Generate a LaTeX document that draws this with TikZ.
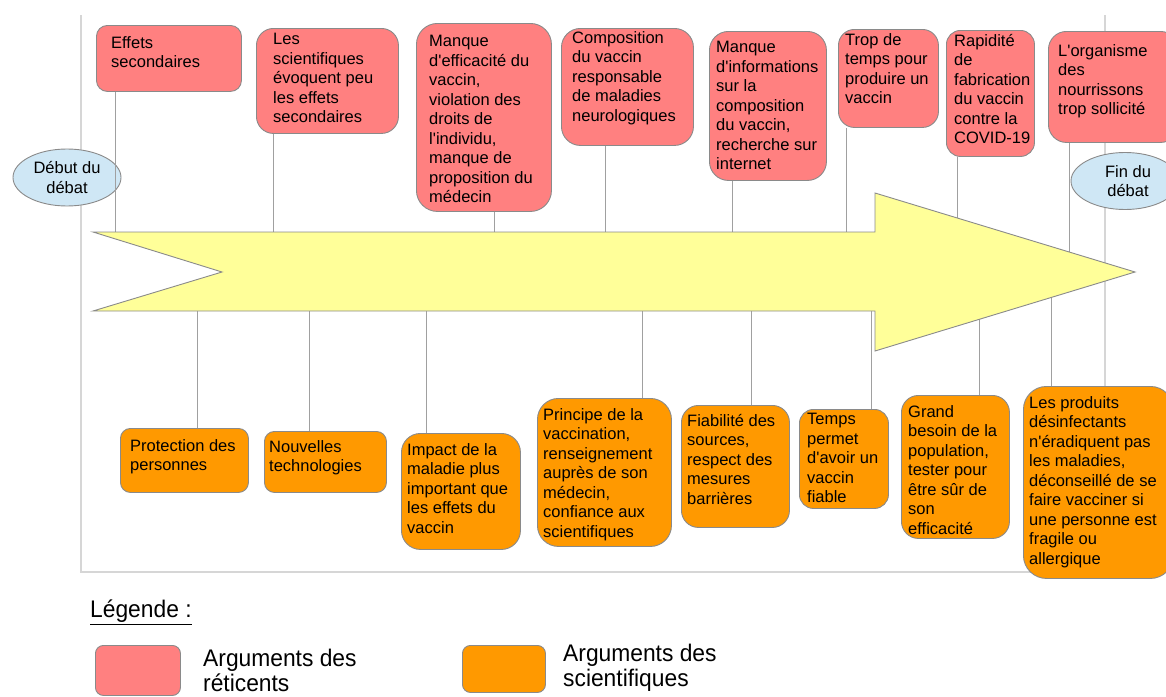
\documentclass[tikz,border=0pt]{standalone}
\usepackage{fontspec}
\setmainfont{Liberation Sans}
\newfontfamily\legfont[FakeStretch=0.95]{Liberation Sans}
\usetikzlibrary{shapes.geometric}
\definecolor{pinkc}{HTML}{FF8080}
\definecolor{orangec}{HTML}{FF9900}
\definecolor{yellowc}{HTML}{FFFF99}
\definecolor{bluec}{HTML}{CFE7F5}
\definecolor{boxgray}{HTML}{8A8A8A}
\definecolor{conngray}{HTML}{A0A0A0}
\definecolor{framec}{HTML}{D6D6D6}
\newcommand\ap{\textquotesingle}
\begin{document}
\begin{tikzpicture}[x=1pt,y=-1pt,
  box/.style={draw=boxgray, line width=0.9pt, anchor=north west, inner sep=0pt},
  redbox/.style={box, fill=pinkc},
  orbox/.style={box, fill=orangec},
  txt/.style={anchor=north west, inner sep=0pt, align=left, font=\fontsize{16.5}{19.5}\selectfont},
  conn/.style={draw=conngray, line width=1pt},
  endp/.style={ellipse, draw=boxgray, fill=bluec, line width=0.9pt, inner sep=0pt,
    minimum width=108pt, minimum height=57pt, align=center, font=\fontsize{16.5}{19.5}\selectfont},
  legtxt/.style={anchor=north west, inner sep=0pt, align=left, font=\legfont\fontsize{24}{25}\selectfont},
]
\useasboundingbox (0,0) rectangle (1166,696);
% frame
\draw[framec, line width=1.5pt] (81,15) -- (81,572) -- (1105,572) -- (1105,15);

% arrow attachment points
\coordinate (t1) at (115,232);
\coordinate (t2) at (273,232);
\coordinate (t3) at (494,232);
\coordinate (t4) at (605,232);
\coordinate (t5) at (732,232);
\coordinate (t6) at (846,232);
\coordinate (t7) at (957,218);
\coordinate (t8) at (1069,252);
\coordinate (b1) at (197,311);
\coordinate (b2) at (309,311);
\coordinate (b3) at (426,311);
\coordinate (b4) at (642,311);
\coordinate (b5) at (751,311);
\coordinate (b6) at (871,311);
\coordinate (b7) at (979,318);
\coordinate (b8) at (1051,297);

% ellipses
\node[endp] (deb) at (67,177.5) {Début du\\débat};
\node[endp] (fin) at (1125,181) {\hspace*{6pt}Fin du\\\hspace*{6pt}débat};

% top boxes
\node[redbox, rounded corners=11pt, minimum width=145pt, minimum height=66pt] (r1) at (96,25) {};
\node[redbox, rounded corners=17pt, minimum width=142pt, minimum height=105pt] (r2) at (256,28) {};
\node[redbox, rounded corners=21pt, minimum width=135pt, minimum height=188pt] (r3) at (416,23) {};
\node[redbox, rounded corners=19pt, minimum width=132pt, minimum height=117pt] (r4) at (561,28) {};
\node[redbox, rounded corners=19pt, minimum width=117pt, minimum height=149pt] (r5) at (709,31) {};
\node[redbox, rounded corners=16pt, minimum width=100pt, minimum height=98pt] (r6) at (838,29) {};
\node[redbox, rounded corners=14pt, minimum width=88pt, minimum height=126pt] (r7) at (946,30) {};
\node[redbox, rounded corners=18pt, minimum width=130pt, minimum height=111pt] (r8) at (1048,31) {};

% bottom boxes
\node[orbox, rounded corners=10pt, minimum width=128pt, minimum height=64pt] (o1) at (120,428) {};
\node[orbox, rounded corners=10pt, minimum width=122pt, minimum height=61pt] (o2) at (264,431) {};
\node[orbox, rounded corners=19pt, minimum width=119pt, minimum height=116pt] (o3) at (401,433) {};
\node[orbox, rounded corners=21pt, minimum width=134pt, minimum height=148pt] (o4) at (537,398) {};
\node[orbox, rounded corners=17pt, minimum width=108pt, minimum height=122pt] (o5) at (681,405) {};
\node[orbox, rounded corners=14pt, minimum width=89pt, minimum height=99pt] (o6) at (799,409) {};
\node[orbox, rounded corners=17pt, minimum width=108pt, minimum height=143pt] (o7) at (901,395) {};
\node[orbox, rounded corners=23pt, minimum width=150pt, minimum height=192pt] (o8) at (1023,386) {};

% connectors
\foreach \i in {1,...,8} {
  \draw[conn] (r\i.south -| t\i) -- (t\i);
  \draw[conn] (o\i.north -| b\i) -- (b\i);
}

% arrow
\draw[draw=boxgray, fill=yellowc, line width=0.9pt, line join=miter]
  (93,232) -- (875,232) -- (875,193) -- (1135,272) -- (875,351) -- (875,311)
  -- (93,311) -- (222,272) -- cycle;

% texts top
\node[txt] (r1t) at (111,36) {Effets\\secondaires};
\node[txt] (r2t) at (273,33) {Les\\scientifiques\\évoquent peu\\les effets\\secondaires};
\node[txt] (r3t) at (429,35) {Manque\\d\ap efficacité du\\vaccin,\\violation des\\droits de\\l\ap individu,\\manque de\\proposition du\\médecin};
\node[txt] (r4t) at (572,31) {Composition\\du vaccin\\responsable\\de maladies\\neurologiques};
\node[txt] (r5t) at (716,41) {Manque\\d\ap informations\\sur la\\composition\\du vaccin,\\recherche sur\\internet};
\node[txt] (r6t) at (845,33) {Trop de\\temps pour\\produire un\\vaccin};
\node[txt] (r7t) at (954,34) {Rapidité\\de\\fabrication\\du vaccin\\contre la\\COVID-19};
\node[txt] (r8t) at (1058,44) {L\ap organisme\\des\\nourrissons\\trop sollicité};

% texts bottom
\node[txt] (o1t) at (130,439) {Protection des\\personnes};
\node[txt] (o2t) at (269,440) {Nouvelles\\technologies};
\node[txt] (o3t) at (407,443) {Impact de la\\maladie plus\\important que\\les effets du\\vaccin};
\node[txt] (o4t) at (543,408) {Principe de la\\vaccination,\\renseignement\\auprès de son\\médecin,\\confiance aux\\scientifiques};
\node[txt] (o5t) at (687,414) {Fiabilité des\\sources,\\respect des\\mesures\\barrières};
\node[txt] (o6t) at (807,413) {Temps\\permet\\d\ap avoir un\\vaccin\\fiable};
\node[txt] (o7t) at (908,405) {Grand\\besoin de la\\population,\\tester pour\\être sûr de\\son\\efficacité};
\node[txt] (o8t) at (1029,396) {Les produits\\désinfectants\\n\ap éradiquent pas\\les maladies,\\déconseillé de se\\faire vacciner si\\une personne est\\fragile ou\\allergique};

% legend
\node[legtxt] (leg) at (90,600) {\underline{Légende :}};
\node[redbox, rounded corners=8pt, minimum width=85pt, minimum height=50pt] (lg1) at (95,645) {};
\node[orbox, rounded corners=8pt, minimum width=83pt, minimum height=47pt] (lg2) at (462,645) {};
\node[legtxt] (lg1t) at (203,649) {Arguments des\\réticents};
\node[legtxt] (lg2t) at (563,644) {Arguments des\\scientifiques};
\end{tikzpicture}
\end{document}
